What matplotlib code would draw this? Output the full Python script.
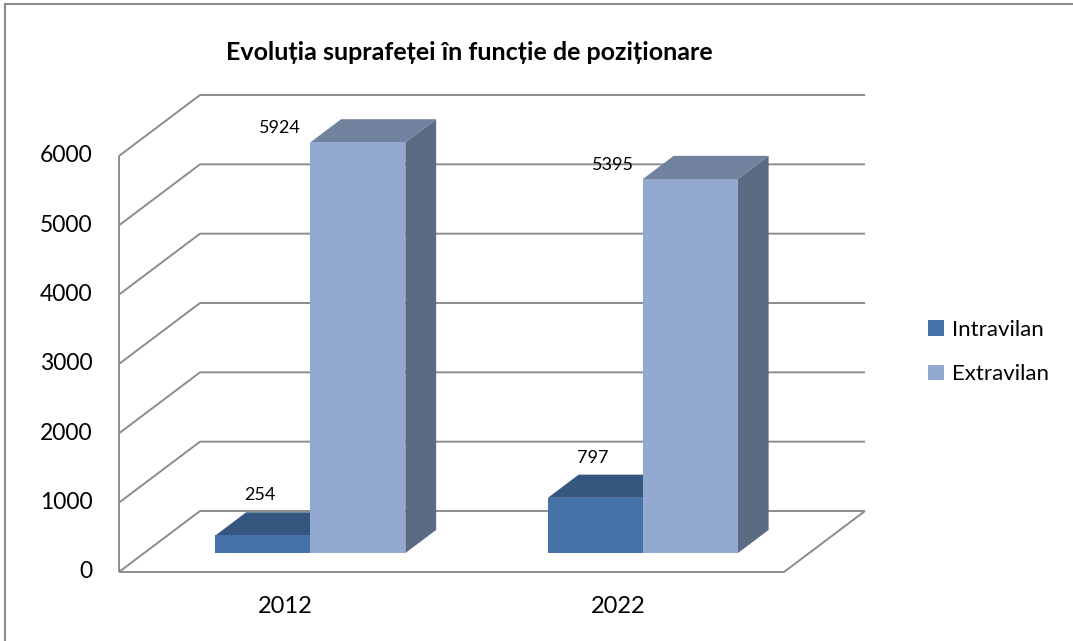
import matplotlib.pyplot as plt
from matplotlib.patches import Polygon, Patch
from matplotlib.lines import Line2D

plt.rcParams['font.family'] = ['Lato', 'DejaVu Sans']

categories = ['2012', '2022']
series = ['Intravilan', 'Extravilan']
intravilan = [254, 797]
extravilan = [5924, 5395]
yticks = [0, 1000, 2000, 3000, 4000, 5000, 6000]
title = 'Evoluția suprafeței în funcție de poziționare'

front_col = {'Intravilan': '#4572A7', 'Extravilan': '#94A9D0'}
top_col = {'Intravilan': '#35577F', 'Extravilan': '#71829F'}
side_col = {'Intravilan': '#2E4B70', 'Extravilan': '#5C6B84'}

W, H = 1073, 641
fig = plt.figure(figsize=(W / 100, H / 100), dpi=100)
ax = fig.add_axes([0, 0, 1, 1])
ax.axis('off')

# pixel layout of the plot box
x0_px, x1_px, y0_px = 119, 784, 572
px_per_unit = (x1_px - x0_px) / len(categories)
px_per_val = 416 / 6000
ax.set_xlim(-0.5 - x0_px / px_per_unit, -0.5 + (W - x0_px) / px_per_unit)
ax.set_ylim(-(H - y0_px) / px_per_val, y0_px / px_per_val)

# oblique depth
ddx = 81 / px_per_unit
ddy = 61 / px_per_val
xl, xr = -0.5, len(categories) - 0.5
ymax = yticks[-1]

def proj(x, y, z):
    return (x + z * ddx, y + z * ddy)

grid = dict(color='#8C8C8C', lw=1.4, solid_capstyle='butt', zorder=1)
for v in yticks:
    pts = [proj(xl, v, 0), proj(xl, v, 1), proj(xr, v, 1)]
    ax.plot([p[0] for p in pts], [p[1] for p in pts], **grid)
    ax.annotate(f'{v}', xy=(xl, v), xytext=(-19, 0), textcoords='offset points',
                ha='right', va='center', fontsize=16.5)
ax.plot([xl, xl], [0, ymax], **grid)
floor = [proj(xl, 0, 0), proj(xr, 0, 0), proj(xr, 0, 1)]
ax.plot([p[0] for p in floor], [p[1] for p in floor], **grid)

# bars
bw = 95 / px_per_unit
zf, zb = 0.31, 0.69
for i, cat in enumerate(categories):
    for j, (name, vals) in enumerate(zip(series, [intravilan, extravilan])):
        v = vals[i]
        a = i - bw + j * bw
        b = a + bw
        front = [proj(a, 0, zf), proj(b, 0, zf), proj(b, v, zf), proj(a, v, zf)]
        top = [proj(a, v, zf), proj(b, v, zf), proj(b, v, zb), proj(a, v, zb)]
        side = [proj(b, 0, zf), proj(b, 0, zb), proj(b, v, zb), proj(b, v, zf)]
        z = 3 + i * 2 + j
        ax.add_patch(Polygon(side, closed=True, fc=side_col[name], ec='none', zorder=z))
        ax.add_patch(Polygon(top, closed=True, fc=top_col[name], ec='none', zorder=z))
        ax.add_patch(Polygon(front, closed=True, fc=front_col[name], ec='none', zorder=z))
        cx, cy = proj((a + b) / 2, v, zf)
        off = (-2, 29) if name == 'Intravilan' else (-56, 10)
        ax.annotate(f'{v}', xy=(cx, cy), xytext=off, textcoords='offset points',
                    ha='center', va='center', fontsize=13, zorder=20)
    ax.annotate(cat, xy=(i, 0), xytext=(0, -24.5), textcoords='offset points',
                ha='center', va='center', fontsize=17)

fig.text(469.5 / W, 1 - 53 / H, title, ha='center', va='center',
         fontsize=18, fontweight='bold')

handles = [Patch(fc=front_col[s], ec='none') for s in series]
fig.legend(handles, series, loc='center left', bbox_to_anchor=(917 / W, 1 - 352 / H),
           frameon=False, fontsize=16, handlelength=0.72, handleheight=0.72,
           handletextpad=0.35, labelspacing=1.1, borderpad=0)

# outer border (left and top only visible)
fig.add_artist(Line2D([5 / W, 5 / W], [0, 1 - 4 / H], color='#8C8C8C', lw=1.5))
fig.add_artist(Line2D([5 / W, 1], [1 - 4 / H, 1 - 4 / H], color='#8C8C8C', lw=1.5))

fig.savefig('out.png', dpi=100)
